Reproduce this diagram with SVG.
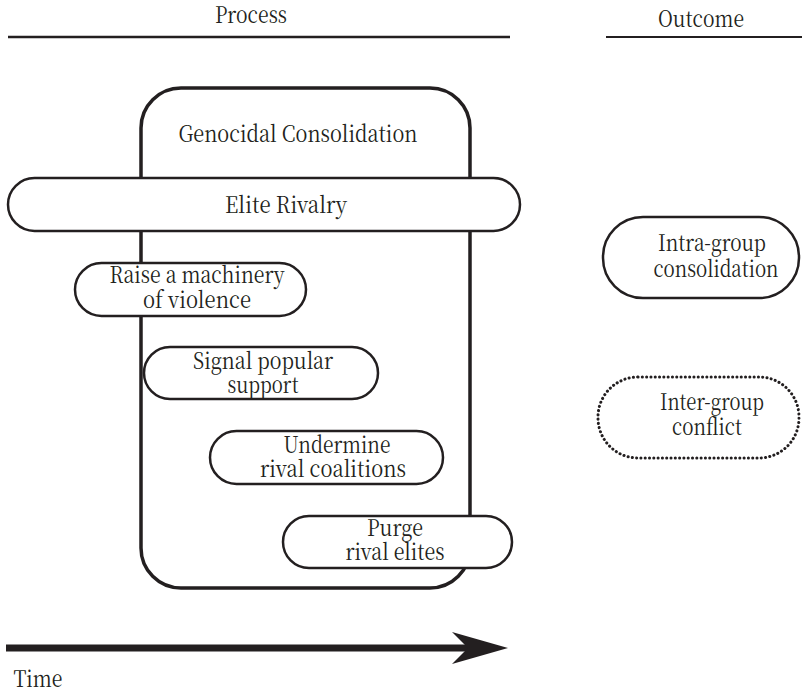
<svg xmlns="http://www.w3.org/2000/svg" width="802" height="693" viewBox="0 0 802 693">
<style>
text{font-family:'Noto Serif CJK SC','DejaVu Serif',serif;font-size:23px;fill:#231f20;text-anchor:middle}
.box{fill:#fff;stroke:#231f20;stroke-width:2.5}
.big{fill:none;stroke:#231f20;stroke-width:3.5}
.dot{fill:#fff;stroke:#231f20;stroke-width:3;stroke-dasharray:0.1 4.2;stroke-linecap:round}
.rule{stroke:#231f20;stroke-width:2.5}
</style>
<rect width="802" height="693" fill="#fff"/>
<g id="headers">
<text x="251" y="23" textLength="72" lengthAdjust="spacingAndGlyphs">Process</text>
<line class="rule" x1="8" y1="37" x2="510" y2="37"/>
<text x="701" y="27" textLength="86" lengthAdjust="spacingAndGlyphs">Outcome</text>
<line class="rule" x1="606" y1="37" x2="802" y2="37" style="stroke-width:2"/>
</g>
<g id="genocidal-consolidation">
<rect class="big" x="141" y="88" width="329" height="500" rx="40"/>
<text x="298" y="142" textLength="239" lengthAdjust="spacingAndGlyphs">Genocidal Consolidation</text>
</g>
<g id="elite-rivalry">
<rect class="box" x="8" y="178" width="512" height="53" rx="26.5"/>
<text x="286" y="213" textLength="122" lengthAdjust="spacingAndGlyphs">Elite Rivalry</text>
</g>
<g id="raise-machinery">
<rect class="box" x="75" y="263" width="231" height="53" rx="26.5"/>
<text x="197" y="283" textLength="175" lengthAdjust="spacingAndGlyphs">Raise a machinery</text>
<text x="197" y="308" textLength="108" lengthAdjust="spacingAndGlyphs">of violence</text>
</g>
<g id="signal-support">
<rect class="box" x="144" y="347" width="234" height="52" rx="26"/>
<text x="263" y="369" textLength="140" lengthAdjust="spacingAndGlyphs">Signal popular</text>
<text x="263" y="393" textLength="71" lengthAdjust="spacingAndGlyphs">support</text>
</g>
<g id="undermine">
<rect class="box" x="210" y="431" width="233" height="53" rx="26.5"/>
<text x="337" y="453" textLength="107" lengthAdjust="spacingAndGlyphs">Undermine</text>
<text x="333" y="477" textLength="146" lengthAdjust="spacingAndGlyphs">rival coalitions</text>
</g>
<g id="purge">
<rect class="box" x="283" y="516" width="229" height="52" rx="26"/>
<text x="395" y="536" textLength="56" lengthAdjust="spacingAndGlyphs">Purge</text>
<text x="395" y="560" textLength="99" lengthAdjust="spacingAndGlyphs">rival elites</text>
</g>
<g id="intra-group">
<rect class="box" x="603" y="217" width="196" height="81" rx="40"/>
<text x="712" y="251" textLength="108" lengthAdjust="spacingAndGlyphs">Intra-group</text>
<text x="716" y="277" textLength="125" lengthAdjust="spacingAndGlyphs">consolidation</text>
</g>
<g id="inter-group">
<rect class="dot" x="598" y="377" width="201" height="81" rx="40"/>
<text x="712" y="410" textLength="104" lengthAdjust="spacingAndGlyphs">Inter-group</text>
<text x="707" y="435" textLength="70" lengthAdjust="spacingAndGlyphs">conflict</text>
</g>
<g id="connectors">
<line x1="6" y1="648" x2="470" y2="648" stroke="#231f20" stroke-width="7"/>
<polygon points="508,648 452,632 468,648 452,664" fill="#231f20"/>
<text x="38" y="687" textLength="49" lengthAdjust="spacingAndGlyphs">Time</text>
</g>
</svg>
